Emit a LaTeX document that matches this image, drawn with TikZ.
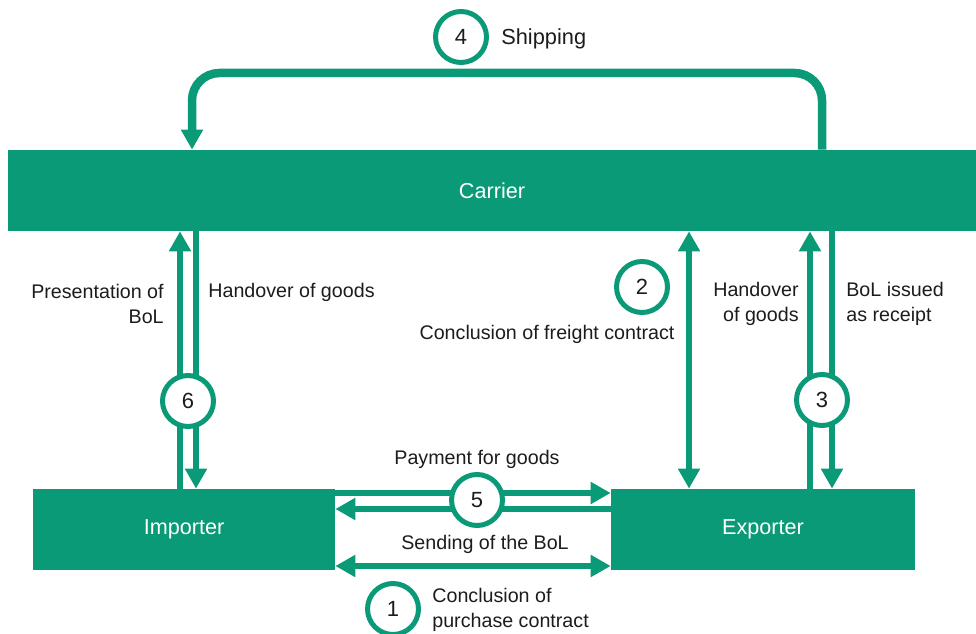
\documentclass[tikz,border=0pt]{standalone}
\usepackage{fontspec}
\setmainfont{Liberation Sans}
\usepackage{tikz}
\usetikzlibrary{arrows.meta,positioning}
\definecolor{flowGreen}{HTML}{0B9A78}
\definecolor{labelDark}{HTML}{1C1C1C}

\begin{document}
\begin{tikzpicture}[x=0.02cm,y=-0.02cm,
  >={Triangle[length=0.4cm,width=0.42cm]},
  party/.style={fill=flowGreen,text=white,minimum height=1.62cm,inner sep=0pt,font=\fontsize{12.3}{14}\selectfont},
  stepnum/.style={circle,draw=flowGreen,line width=0.1cm,fill=white,text=labelDark,minimum size=1.02cm,inner sep=0pt,font=\fontsize{12.5}{14}\selectfont},
  lbl/.style={text=labelDark,inner sep=0pt,font=\fontsize{11.2}{13.9}\selectfont},
  flow/.style={flowGreen,line width=0.13cm}]
\useasboundingbox (0,0) rectangle (976,634);
% Parteien
\node[party,minimum width=19.36cm] (carrier) at (492,190.5) {\raisebox{-0.04cm}{Carrier}};
\node[party,minimum width=6.04cm] (importer) at (184,529.5) {\raisebox{-0.04cm}{Importer}};
\node[party,minimum width=6.08cm] (exporter) at (763,529.5) {\raisebox{-0.04cm}{Exporter}};
% Spalten und Zeilen
\coordinate (c6up) at (180,0);
\coordinate (c6dn) at (196,0);
\coordinate (c2) at (689,0);
\coordinate (c3up) at (810,0);
\coordinate (c3dn) at (832,0);
\coordinate (sL) at (192,0);
\coordinate (sR) at (822,0);
\coordinate (shipTop) at (500,73);
\coordinate (r5pay) at (0,493);
\coordinate (r5send) at (0,509);
\coordinate (r1) at (0,566);
% Versand
\draw[flowGreen,line width=0.17cm,rounded corners=0.55cm,->]
  (carrier.north -| sR) |- (shipTop) -| (carrier.north -| sL);
% Schritt 6
\draw[flow,->] (importer.north -| c6up) -- (carrier.south -| c6up);
\draw[flow,->] (carrier.south -| c6dn) -- (importer.north -| c6dn);
% Schritt 2
\draw[flow,<->] (exporter.north -| c2) -- (carrier.south -| c2);
% Schritt 3
\draw[flow,->] (exporter.north -| c3up) -- (carrier.south -| c3up);
\draw[flow,->] (carrier.south -| c3dn) -- (exporter.north -| c3dn);
% Schritt 5 und 1
\draw[flow,->] (importer.east |- r5pay) -- (exporter.west |- r5pay);
\draw[flow,->] (exporter.west |- r5send) -- (importer.east |- r5send);
\draw[flow,<->] (importer.east |- r1) -- (exporter.west |- r1);
% Nummern
\node[stepnum] (n4) at (461,37) {4};
\node[stepnum] (n6) at (188,401) {6};
\node[stepnum] (n2) at (642,287) {2};
\node[stepnum] (n3) at (822,400) {3};
\node[stepnum] (n5) at (477,500) {5};
\node[stepnum] (n1) at (393,609) {1};
% Beschriftungen
\node[lbl,right=0.24cm of n4,yshift=-0.04cm,font=\fontsize{12.4}{14}\selectfont] (shipLbl) {Shipping};
\node[lbl,anchor=east,align=right] (presLbl) at (164,304) {Presentation of\\BoL};
\node[lbl,anchor=west] (hand6Lbl) at (208,292) {Handover of goods};
\node[lbl] (freightLbl) at (547,334) {Conclusion of freight contract};
\node[lbl,anchor=east,align=right] (hand3Lbl) at (799,304) {Handover\\of goods};
\node[lbl,anchor=west,align=left] (receiptLbl) at (846,304) {BoL issued\\as receipt};
\node[lbl] (payLbl) at (477,459) {Payment for goods};
\node[lbl] (sendLbl) at (485,544) {Sending of the BoL};
\node[lbl,anchor=west,align=left] (purchLbl) at (432,610) {Conclusion of\\purchase contract};
\end{tikzpicture}
\end{document}
